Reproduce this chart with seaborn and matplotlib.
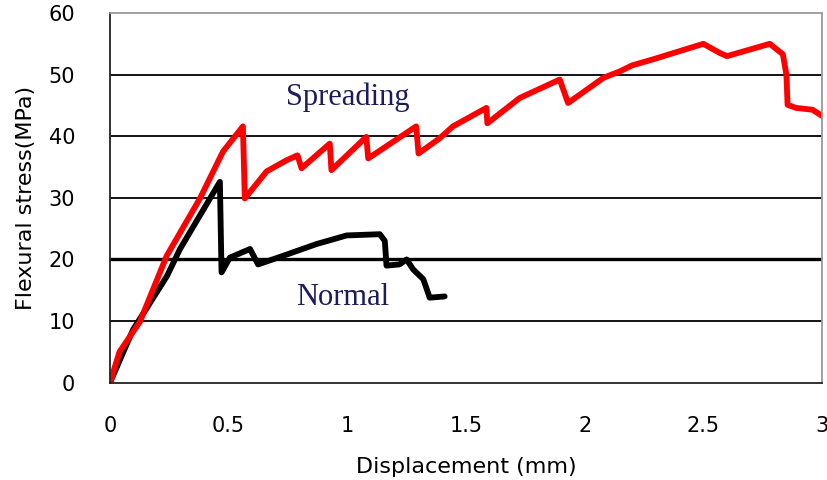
import matplotlib
matplotlib.use("Agg")
import matplotlib.pyplot as plt
import seaborn as sns
import pandas as pd

# ---- data ----
spreading_x = [0, 0.04, 0.126, 0.239, 0.379, 0.476, 0.56, 0.568, 0.66, 0.744, 0.79, 0.807,
               0.926, 0.933, 1.08, 1.088, 1.29, 1.30, 1.39, 1.445, 1.586, 1.59, 1.726, 1.895,
               1.93, 2.08, 2.147, 2.2, 2.29, 2.50, 2.57, 2.6, 2.78, 2.835, 2.85, 2.855, 2.89,
               2.96, 3.0]
spreading_y = [0, 5.0, 9.9, 20.6, 29.9, 37.5, 41.6, 29.9, 34.3, 36.1, 36.9, 34.8,
               38.8, 34.5, 39.9, 36.4, 41.6, 37.2, 39.7, 41.6, 44.6, 42.1, 46.2, 49.2,
               45.4, 49.5, 50.5, 51.5, 52.5, 55.0, 53.5, 53.0, 55.0, 53.3, 50.0, 45.1, 44.6,
               44.3, 43.3]
normal_x = [0, 0.097, 0.24, 0.295, 0.463, 0.47, 0.505, 0.59, 0.624, 0.73, 0.87, 0.997,
            1.137, 1.158, 1.165, 1.22, 1.25, 1.277, 1.32, 1.34, 1.347, 1.41]
normal_y = [0, 8.6, 17.3, 21.7, 32.6, 17.9, 20.3, 21.7, 19.2, 20.6, 22.5, 23.9,
            24.1, 23.0, 19.0, 19.2, 20.0, 18.4, 16.8, 14.6, 13.8, 14.0]
series_names = ["Normal", "Spreading"]
series_colors = {"Normal": "#000000", "Spreading": "#ff0000"}
x_ticks = [0, 0.5, 1, 1.5, 2, 2.5, 3]
x_tick_labels = ["0", "0.5", "1", "1.5", "2", "2.5", "3"]
y_ticks = [0, 10, 20, 30, 40, 50, 60]
y_tick_labels = ["0", "10", "20", "30", "40", "50", "60"]

df = pd.concat([
    pd.DataFrame({"x": normal_x, "y": normal_y, "series": "Normal"}),
    pd.DataFrame({"x": spreading_x, "y": spreading_y, "series": "Spreading"}),
], ignore_index=True)

sns.set_theme(style="white")
plt.rcParams["font.family"] = ["DejaVu Sans"]

fig = plt.figure(figsize=(8.28, 4.8), dpi=100)
ax = fig.add_axes([110 / 828, 1 - 382.7 / 480, 712 / 828, (382.7 - 13) / 480])

sns.lineplot(data=df, x="x", y="y", hue="series", hue_order=series_names,
             palette=series_colors, sort=False, estimator=None, units="series",
             linewidth=4.2, legend=False, ax=ax)

ax.set_xlim(0, 3)
ax.set_ylim(0, 60)
ax.set_xticks(x_ticks)
ax.set_xticklabels(x_tick_labels)
ax.set_yticks(y_ticks)
ax.set_yticklabels(y_tick_labels)

for yv in y_ticks[1:-1]:
    ax.axhline(yv, color="black", linewidth=2.4 if yv == 20 else 1.3, zorder=0.5)

for side in ["left", "bottom"]:
    ax.spines[side].set_color("#222222")
    ax.spines[side].set_linewidth(1.3)
for side in ["top", "right"]:
    ax.spines[side].set_visible(True)
    ax.spines[side].set_color("#999999")
    ax.spines[side].set_linewidth(1.3)

ax.tick_params(axis="x", direction="in", length=5, width=1.2, color="#222222",
               pad=24, labelsize=15, labelcolor="black")
ax.tick_params(axis="y", length=0, pad=25, labelsize=15, labelcolor="black")

ax.set_xlabel("Displacement (mm)", fontsize=16, labelpad=15, color="black")
ax.set_ylabel("Flexural stress(MPa)", fontsize=16, labelpad=9, color="black")

ax.text(1.0, 46.3, "Spreading", ha="center", va="center", fontsize=22,
        family="Liberation Serif", color="#1c1c5c")
ax.text(0.98, 13.9, "Normal", ha="center", va="center", fontsize=22,
        family="Liberation Serif", color="#1c1c5c")

fig.savefig("out.png", dpi=100)
